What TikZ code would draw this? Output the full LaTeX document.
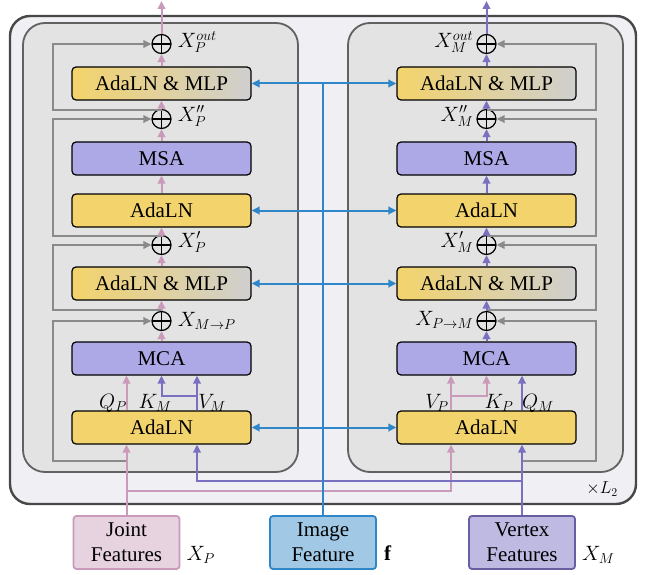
\documentclass[tikz,border=0pt]{standalone}
\usepackage{fontspec}
\setmainfont{Liberation Serif}
\usetikzlibrary{arrows.meta, positioning}

\definecolor{lnyellow}{HTML}{F3D36B}
\definecolor{attpurple}{HTML}{ADA8E6}
\definecolor{mlpgray}{HTML}{CFCFCF}
\definecolor{jointpink}{HTML}{C99AB9}
\definecolor{vertexpurple}{HTML}{7A70C0}
\definecolor{imgblue}{HTML}{2F86C8}
\definecolor{skipgray}{HTML}{8A8A8A}
\definecolor{stackbg}{HTML}{EFEFF4}

\tikzset{
    block/.style={draw, rectangle, rounded corners=4pt, line width=1.2pt, minimum width=179pt, minimum height=33pt, inner sep=0pt, font=\fontsize{21}{24}\selectfont},
    lnblock/.style={block, fill=lnyellow},
    attblock/.style={block, fill=attpurple},
    mlpblock/.style={block, left color=lnyellow, right color=mlpgray},
    addop/.style={circle, draw, line width=1.2pt, minimum size=19pt, inner sep=0pt,
        path picture={\draw[line width=1.2pt] (path picture bounding box.north) -- (path picture bounding box.south)
            (path picture bounding box.west) -- (path picture bounding box.east);}},
    inbox/.style={draw, rectangle, rounded corners=3pt, line width=1.8pt, minimum width=106pt, minimum height=53pt, align=center, font=\fontsize{21}{25}\selectfont},
    lbl/.style={inner sep=0pt, font=\fontsize{21}{24}\selectfont},
    qkv/.style={inner sep=0pt, font=\fontsize{20}{22}\selectfont},
    tip/.style={-{Triangle[length=8pt, width=7.5pt]}},
    jointflow/.style={tip, draw=jointpink, line width=2pt},
    vertexflow/.style={tip, draw=vertexpurple, line width=2pt},
    jointline/.style={draw=jointpink, line width=2pt},
    vertexline/.style={draw=vertexpurple, line width=2pt},
    skipline/.style={tip, draw=skipgray, line width=2pt},
    condarrow/.style={{Triangle[length=8pt, width=7.5pt]}-{Triangle[length=8pt, width=7.5pt]}, draw=imgblue, line width=2pt},
    condline/.style={draw=imgblue, line width=2pt},
    stackframe/.style={draw=black!72, fill=stackbg, line width=2.4pt, rounded corners=20pt},
    branchframe/.style={draw=black!62, fill=black!11, line width=1.8pt, rounded corners=22pt}
}

\begin{document}
\begin{tikzpicture}[x=1pt, y=-1pt]
    \useasboundingbox (0,0) rectangle (645,575);

    % frames
    \draw[stackframe] (10,16) rectangle (636,504);
    \draw[branchframe] (23,23) rectangle (298,472);
    \draw[branchframe] (348,23) rectangle (623,472);
    \node[font=\fontsize{17}{20}\selectfont, inner sep=0pt] (rep) at (602,489) {$\times L_2$};

    % inputs
    \node[inbox, fill=jointpink!45, draw=jointpink] (jf) at (126.5,542.5) {Joint\\Features};
    \node[inbox, fill=imgblue!45, draw=imgblue] (imf) at (323,542.5) {Image\\Feature};
    \node[inbox, fill=vertexpurple!48, draw=vertexpurple!85!black] (vf) at (522,542.5) {Vertex\\Features};
    \node[lbl, anchor=west] (xp) at ([xshift=6pt, yshift=-12pt]jf.east) {$X_P$};
    \node[lbl, anchor=west] (fimg) at ([xshift=7pt, yshift=-11pt]imf.east) {$\mathbf{f}$};
    \node[lbl, anchor=west] (xm) at ([xshift=6pt, yshift=-12pt]vf.east) {$X_M$};

    % joint branch (left)
    \node[mlpblock] (mlpL2) at (161.5,83.5) {AdaLN \& MLP};
    \node[attblock] (msaL) at (161.5,158.5) {MSA};
    \node[lnblock] (lnL2) at (161.5,210.5) {AdaLN};
    \node[mlpblock] (mlpL1) at (161.5,283.5) {AdaLN \& MLP};
    \node[attblock] (mcaL) at (161.5,358.5) {MCA};
    \node[lnblock] (lnL1) at (161.5,427.5) {AdaLN};
    \node[addop] (addL4) at (161.5,44) {};
    \node[addop] (addL3) at (161.5,119) {};
    \node[addop] (addL2) at (161.5,245) {};
    \node[addop] (addL1) at (161.5,321) {};

    % vertex branch (right)
    \node[mlpblock] (mlpR2) at (486.5,83.5) {AdaLN \& MLP};
    \node[attblock] (msaR) at (486.5,158.5) {MSA};
    \node[lnblock] (lnR2) at (486.5,210.5) {AdaLN};
    \node[mlpblock] (mlpR1) at (486.5,283.5) {AdaLN \& MLP};
    \node[attblock] (mcaR) at (486.5,358.5) {MCA};
    \node[lnblock] (lnR1) at (486.5,427.5) {AdaLN};
    \node[addop] (addR4) at (486.5,44) {};
    \node[addop] (addR3) at (486.5,119) {};
    \node[addop] (addR2) at (486.5,245) {};
    \node[addop] (addR1) at (486.5,321) {};

    % tap points and side rails
    \coordinate (skipL) at (53,0);
    \coordinate (skipR) at (596,0);
    \coordinate (vL) at (197,0);
    \coordinate (vR) at (451,0);
    \coordinate (tapL2) at (161.5,310);
    \coordinate (tapL3) at (161.5,236);
    \coordinate (tapL4) at (161.5,110);
    \coordinate (tapR2) at (486.5,310);
    \coordinate (tapR3) at (486.5,236);
    \coordinate (tapR4) at (486.5,110);
    \coordinate (outL) at (161.5,1);
    \coordinate (outR) at (486.5,1);

    % residual paths
    \draw[skipline] (jf.north |- 0,461) -| (skipL |- addL1) -- (addL1);
    \draw[skipline] (tapL2) -| (skipL |- addL2) -- (addL2);
    \draw[skipline] (tapL3) -| (skipL |- addL3) -- (addL3);
    \draw[skipline] (tapL4) -| (skipL |- addL4) -- (addL4);
    \draw[skipline] (vf.north |- 0,461) -| (skipR |- addR1) -- (addR1);
    \draw[skipline] (tapR2) -| (skipR |- addR2) -- (addR2);
    \draw[skipline] (tapR3) -| (skipR |- addR3) -- (addR3);
    \draw[skipline] (tapR4) -| (skipR |- addR4) -- (addR4);

    % joint stream
    \draw[jointflow] (mcaL) -- (addL1);
    \draw[jointflow] (addL1) -- (mlpL1);
    \draw[jointflow] (mlpL1) -- (addL2);
    \draw[jointflow] (addL2) -- (lnL2);
    \draw[jointflow] (lnL2) -- (msaL);
    \draw[jointflow] (msaL) -- (addL3);
    \draw[jointflow] (addL3) -- (mlpL2);
    \draw[jointflow] (mlpL2) -- (addL4);
    \draw[jointflow] (addL4) -- (outL);

    % vertex stream
    \draw[vertexflow] (mcaR) -- (addR1);
    \draw[vertexflow] (addR1) -- (mlpR1);
    \draw[vertexflow] (mlpR1) -- (addR2);
    \draw[vertexflow] (addR2) -- (lnR2);
    \draw[vertexflow] (lnR2) -- (msaR);
    \draw[vertexflow] (msaR) -- (addR3);
    \draw[vertexflow] (addR3) -- (mlpR2);
    \draw[vertexflow] (mlpR2) -- (addR4);
    \draw[vertexflow] (addR4) -- (outR);

    % queries, keys, values
    \draw[jointflow] (lnL1.north -| jf.north) -- (mcaL.south -| jf.north);
    \draw[vertexflow] (lnL1.north -| vL) -- (mcaL.south -| vL);
    \draw[vertexflow] (vL |- 0,396) -| (mcaL.south);
    \draw[vertexflow] (lnR1.north -| vf.north) -- (mcaR.south -| vf.north);
    \draw[jointflow] (lnR1.north -| vR) -- (mcaR.south -| vR);
    \draw[jointflow] (vR |- 0,396) -| (mcaR.south);

    \node[qkv] (qP) at (113,403) {$Q_P$};
    \node[qkv] (kM) at (155,403) {$K_M$};
    \node[qkv] (vM) at (212,403) {$V_M$};
    \node[qkv] (vP) at (437,403) {$V_P$};
    \node[qkv] (kP) at (499,403) {$K_P$};
    \node[qkv] (qM) at (538,403) {$Q_M$};

    % stream labels
    \node[lbl, right=6pt of addL4, yshift=2pt] (xPout) {$X_P^{out}$};
    \node[lbl, right=6pt of addL3, yshift=3pt] (xPpp) {$X_P''$};
    \node[lbl, right=6pt of addL2, yshift=3pt] (xPp) {$X_P'$};
    \node[lbl, right=6pt of addL1] (xMP) {$X_{M\rightarrow P}$};
    \node[lbl, left=3pt of addR4, yshift=2pt] (xMout) {$X_M^{out}$};
    \node[lbl, left=3pt of addR3, yshift=3pt] (xMpp) {$X_M''$};
    \node[lbl, left=3pt of addR2, yshift=3pt] (xMp) {$X_M'$};
    \node[lbl, left=3pt of addR1, yshift=1pt] (xPM) {$X_{P\rightarrow M}$};

    % feature inputs
    \draw[jointflow] (jf.north) -- (lnL1.south -| jf.north);
    \draw[jointline] (jf.north |- 0,491) -| (vR |- 0,480);
    \draw[jointflow] (vR |- 0,491) -- (lnR1.south -| vR);
    \draw[vertexflow] (vf.north) -- (lnR1.south -| vf.north);
    \draw[vertexline] (vf.north |- 0,481) -| (vL |- 0,470);
    \draw[vertexflow] (vL |- 0,481) -- (lnL1.south -| vL);

    % image conditioning
    \draw[condline] (imf.north) -- (imf.north |- mlpL2.east);
    \draw[condarrow] (mlpL2) -- (mlpR2);
    \draw[condarrow] (lnL2) -- (lnR2);
    \draw[condarrow] (mlpL1) -- (mlpR1);
    \draw[condarrow] (lnL1) -- (lnR1);
\end{tikzpicture}
\end{document}
